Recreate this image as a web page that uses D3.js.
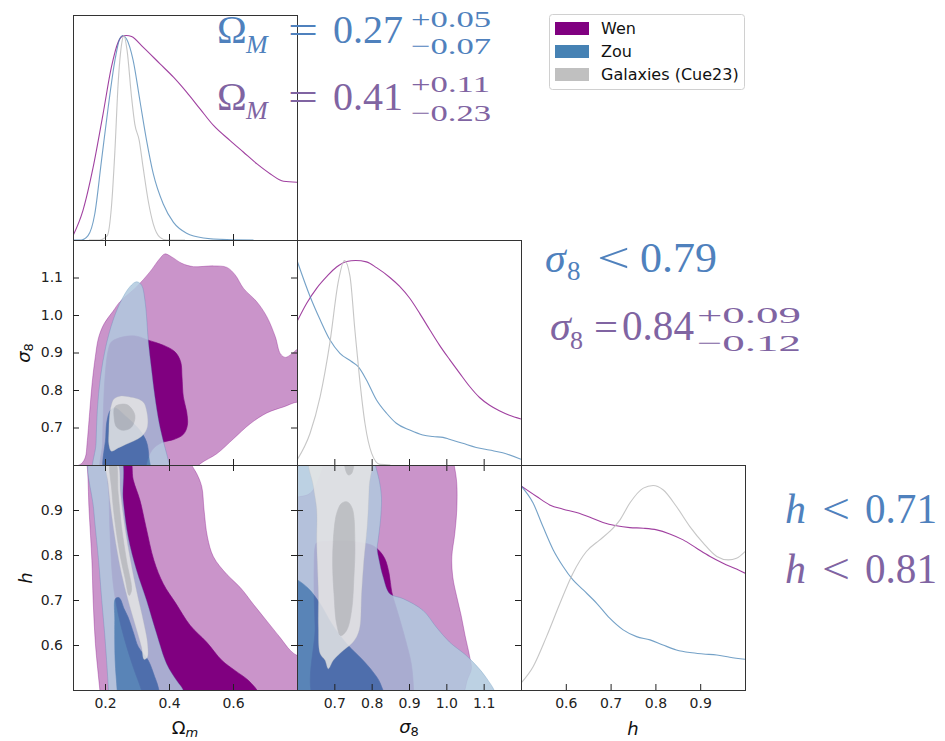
<!DOCTYPE html>
<html><head><meta charset="utf-8">
<script src="https://cdn.jsdelivr.net/npm/d3@7"></script>
<style>body{margin:0;background:#fff}svg{display:block}</style>
</head><body>
<svg id="chart" width="945" height="741"></svg>
<script>
// ---------- parameter ranges & ticks ----------
const omRange = [0.1, 0.8], s8Range = [0.6, 1.2], hRange = [0.5, 1.0];
const omTicks = [0.2, 0.4, 0.6];
const s8Ticks = [0.7, 0.8, 0.9, 1.0, 1.1];
const hTicks  = [0.6, 0.7, 0.8, 0.9];
const seriesNames = ["Wen", "Zou", "Galaxies (Cue23)"];

// ---------- 1D marginals [value, normalised density] ----------
const omWen = [[0.100,0.021],[0.131,0.144],[0.163,0.356],[0.194,0.617],[0.220,0.845],[0.241,0.967],[0.257,0.998],[0.267,1.000],[0.283,0.995],[0.319,0.943],[0.372,0.861],[0.414,0.796],[0.455,0.723],[0.497,0.641],[0.539,0.560],[0.591,0.486],[0.633,0.429],[0.675,0.372],[0.717,0.323],[0.758,0.287],[0.800,0.282]];
const omZou = [[0.100,0.0],[0.126,0.0],[0.147,0.021],[0.168,0.127],[0.189,0.388],[0.210,0.649],[0.231,0.878],[0.246,0.984],[0.255,1.0],[0.267,0.984],[0.288,0.878],[0.309,0.682],[0.330,0.486],[0.351,0.323],[0.382,0.176],[0.414,0.086],[0.455,0.033],[0.508,0.010],[0.581,0.002],[0.664,0.0]];
const omGal = [[0.150,0.0],[0.184,0.0],[0.207,0.021],[0.220,0.160],[0.231,0.437],[0.241,0.763],[0.252,0.959],[0.259,1.0],[0.269,0.927],[0.283,0.698],[0.293,0.568],[0.307,0.486],[0.319,0.356],[0.335,0.192],[0.351,0.078],[0.372,0.013],[0.393,0.0],[0.450,0.0]];

const s8Wen = [[0.600,0.701],[0.626,0.791],[0.653,0.865],[0.680,0.922],[0.706,0.968],[0.733,0.995],[0.757,1.0],[0.786,0.993],[0.813,0.965],[0.848,0.918],[0.875,0.873],[0.902,0.815],[0.929,0.740],[0.956,0.660],[0.982,0.585],[1.009,0.515],[1.036,0.448],[1.062,0.385],[1.089,0.330],[1.116,0.292],[1.142,0.265],[1.169,0.243],[1.200,0.225]];
const s8Zou = [[0.600,1.0],[0.635,0.824],[0.662,0.710],[0.688,0.612],[0.715,0.546],[0.746,0.506],[0.764,0.481],[0.786,0.416],[0.813,0.318],[0.840,0.253],[0.866,0.204],[0.902,0.171],[0.937,0.147],[0.964,0.139],[0.991,0.135],[1.008,0.126],[1.044,0.106],[1.080,0.086],[1.115,0.073],[1.151,0.060],[1.200,0.028]];
const s8Gal = [[0.600,0.024],[0.635,0.155],[0.662,0.334],[0.688,0.597],[0.711,0.900],[0.727,1.0],[0.742,0.922],[0.755,0.661],[0.768,0.416],[0.782,0.204],[0.800,0.057],[0.822,0.003],[0.850,0.0]];

const hWen = [[0.500,0.998],[0.535,0.946],[0.564,0.905],[0.594,0.884],[0.624,0.868],[0.654,0.845],[0.683,0.819],[0.713,0.803],[0.743,0.794],[0.773,0.791],[0.803,0.783],[0.832,0.763],[0.862,0.734],[0.892,0.693],[0.922,0.653],[0.951,0.620],[0.981,0.591],[1.000,0.571]];
const hZou = [[0.500,0.998],[0.527,0.914],[0.549,0.799],[0.572,0.685],[0.594,0.604],[0.616,0.538],[0.639,0.489],[0.669,0.424],[0.698,0.351],[0.728,0.294],[0.758,0.261],[0.788,0.245],[0.817,0.220],[0.847,0.196],[0.877,0.183],[0.907,0.176],[0.937,0.171],[0.966,0.160],[1.000,0.150]];
const hGal = [[0.501,0.036],[0.527,0.114],[0.557,0.261],[0.587,0.424],[0.616,0.571],[0.646,0.677],[0.676,0.734],[0.698,0.775],[0.721,0.832],[0.743,0.914],[0.773,0.987],[0.795,1.0],[0.817,0.979],[0.847,0.897],[0.877,0.799],[0.907,0.718],[0.937,0.653],[0.963,0.636],[0.981,0.644],[1.000,0.677]];

// ---------- 2D contours: sigma8 vs Omega_m  [Om, s8] ----------
const wenOuterS8Om = [[0.0791,0.550],[0.0948,0.590],[0.1261,0.6034],[0.1387,0.6211],[0.1439,0.657],[0.1520,0.740],[0.1600,0.820],[0.1700,0.890],[0.1800,0.940],[0.1980,0.978],[0.2250,1.010],[0.2463,1.035],[0.2985,1.075],[0.3403,1.115],[0.3717,1.151],[0.3874,1.163],[0.4083,1.155],[0.4396,1.138],[0.4762,1.129],[0.5389,1.131],[0.5807,1.127],[0.6068,1.107],[0.6329,1.071],[0.6747,1.035],[0.7061,0.995],[0.7322,0.942],[0.7479,0.897],[0.7635,0.887],[0.7844,0.897],[0.8053,0.911],[0.863,0.924],[0.863,0.755],[0.8053,0.768],[0.7583,0.755],[0.7061,0.739],[0.6538,0.710],[0.6016,0.670],[0.5493,0.630],[0.4971,0.603],[0.4553,0.568]];
const wenInnerS8Om = [[0.2202,0.9284],[0.2567,0.9418],[0.2985,0.9435],[0.3351,0.9329],[0.3821,0.9195],[0.4187,0.9017],[0.4365,0.8750],[0.4406,0.8349],[0.4448,0.7815],[0.4553,0.7414],[0.4574,0.7058],[0.4448,0.6817],[0.4135,0.6675],[0.3821,0.6612],[0.3560,0.6479],[0.3403,0.6301],[0.3299,0.6034],[0.3247,0.5678],[0.190,0.5678],[0.192,0.6568],[0.195,0.7459],[0.200,0.8349],[0.210,0.9061]];
const zouOuterS8Om = [[0.168,0.5678],[0.172,0.6568],[0.176,0.7459],[0.186,0.8349],[0.2024,0.9150],[0.2254,0.9863],[0.2515,1.0397],[0.2776,1.0753],[0.2985,1.0887],[0.3142,1.0798],[0.3247,1.0397],[0.3299,0.9952],[0.3351,0.9329],[0.3456,0.8527],[0.3560,0.7815],[0.3696,0.7102],[0.3842,0.6568],[0.3978,0.6122],[0.4051,0.5678]];
const zouInnerS8Om = [[0.2024,0.5678],[0.2024,0.6746],[0.2066,0.7191],[0.2170,0.7459],[0.2306,0.7521],[0.2672,0.7281],[0.3090,0.6924],[0.3299,0.6612],[0.3372,0.6211],[0.3382,0.5678]];
const galOuterS8Om = [[0.228,0.776],[0.250,0.784],[0.280,0.781],[0.304,0.776],[0.322,0.765],[0.330,0.745],[0.334,0.715],[0.330,0.695],[0.314,0.676],[0.290,0.664],[0.265,0.655],[0.240,0.645],[0.220,0.637],[0.212,0.655],[0.212,0.690],[0.214,0.730],[0.220,0.760]];
const galInnerS8Om = [[0.2307,0.7548],[0.2500,0.7620],[0.2724,0.7593],[0.2934,0.7326],[0.2831,0.7013],[0.2567,0.6925],[0.2360,0.7013],[0.2285,0.7280]];

// ---------- 2D contours: h vs Omega_m  [Om, h] ----------
const wenOuterHOm = [[0.1366,1.026],[0.1439,1.0],[0.1502,0.900],[0.1590,0.788],[0.1630,0.699],[0.1700,0.603],[0.1840,0.499],[0.1880,0.469],[0.8628,0.469],[0.8628,0.566],[0.8001,0.577],[0.7792,0.588],[0.7479,0.616],[0.7061,0.653],[0.6643,0.690],[0.6225,0.728],[0.5807,0.757],[0.5389,0.796],[0.5201,0.840],[0.5096,0.900],[0.5023,0.952],[0.4866,0.981],[0.4710,1.0],[0.4605,1.026]];
const wenInnerHOm = [[0.2149,1.019],[0.2755,1.019],[0.2881,0.967],[0.3090,0.922],[0.3278,0.863],[0.3529,0.788],[0.3821,0.736],[0.4218,0.692],[0.4657,0.644],[0.5180,0.606],[0.5650,0.566],[0.6068,0.543],[0.6486,0.521],[0.6831,0.491],[0.6935,0.469],[0.3247,0.469],[0.3142,0.4989],[0.2881,0.5509],[0.2620,0.6102],[0.2411,0.6696],[0.2254,0.7365],[0.2170,0.8255],[0.2129,0.9220]];
const zouOuterHOm = [[0.1543,1.019],[0.1648,0.900],[0.1800,0.788],[0.1900,0.699],[0.1990,0.625],[0.2050,0.566],[0.2110,0.499],[0.2130,0.469],[0.4500,0.469],[0.4448,0.499],[0.4239,0.521],[0.3926,0.558],[0.3612,0.625],[0.3299,0.699],[0.2985,0.766],[0.2724,0.840],[0.2567,0.922],[0.2463,1.019]];
const zouInnerHOm = [[0.2400,0.469],[0.2380,0.499],[0.2317,0.566],[0.2306,0.655],[0.2327,0.703],[0.2442,0.705],[0.2600,0.680],[0.2720,0.662],[0.2900,0.625],[0.3040,0.596],[0.3350,0.566],[0.3550,0.530],[0.3660,0.507],[0.3720,0.469]];
const galOuterHOm = [[0.2045,1.004],[0.2379,1.004],[0.2484,0.937],[0.2620,0.863],[0.2797,0.788],[0.3006,0.714],[0.3194,0.655],[0.3330,0.603],[0.3320,0.572],[0.3220,0.568],[0.3142,0.595],[0.2933,0.647],[0.2724,0.699],[0.2515,0.759],[0.2338,0.826],[0.2202,0.892],[0.2097,0.959]];
const galInnerHOm = [[0.2170,1.007],[0.2327,1.007],[0.2411,0.937],[0.2515,0.863],[0.2672,0.788],[0.2829,0.722],[0.2755,0.710],[0.2620,0.751],[0.2463,0.803],[0.2306,0.877],[0.2212,0.944]];

// ---------- 2D contours: h vs sigma8  [s8, h] ----------
const wenOuterHS8 = [[0.564,0.928],[0.6013,0.929],[0.6351,0.937],[0.6573,0.967],[0.6707,1.0],[0.6796,1.026],[1.0129,1.026],[1.0218,0.996],[1.0280,0.959],[1.0280,0.900],[1.0227,0.848],[1.0147,0.796],[1.0173,0.751],[1.0280,0.707],[1.0396,0.666],[1.0502,0.621],[1.0618,0.577],[1.0671,0.547],[1.0573,0.525],[1.0307,0.477],[0.564,0.477]];
const wenInnerHS8 = [[0.6484,0.818],[0.6529,0.827],[0.7062,0.831],[0.7596,0.829],[0.7996,0.822],[0.8173,0.812],[0.8351,0.792],[0.8467,0.759],[0.8538,0.718],[0.8707,0.670],[0.8911,0.610],[0.9062,0.558],[0.9124,0.499],[0.9124,0.469],[0.6529,0.469],[0.6484,0.640],[0.6458,0.714],[0.6458,0.774]];
const zouOuterHS8 = [[0.564,1.026],[0.804,1.026],[0.8111,0.996],[0.8200,0.967],[0.8262,0.929],[0.8236,0.8775],[0.8173,0.833],[0.8147,0.8144],[0.8200,0.788],[0.8307,0.751],[0.8484,0.714],[0.8840,0.703],[0.9373,0.677],[0.9729,0.640],[1.0084,0.6065],[1.0529,0.577],[1.0884,0.547],[1.1151,0.5175],[1.1284,0.499],[1.1373,0.469],[0.564,0.469]];
const zouInnerHS8 = [[0.564,0.7587],[0.5996,0.7454],[0.6307,0.7253],[0.6618,0.6919],[0.6929,0.6474],[0.7329,0.6028],[0.7729,0.5694],[0.8040,0.5397],[0.8236,0.5137],[0.8324,0.469],[0.564,0.469]];
const galOuterHS8 = [[0.6351,1.0186],[0.7951,1.0186],[0.7933,0.952],[0.7880,0.863],[0.7791,0.788],[0.7729,0.714],[0.7684,0.640],[0.7596,0.618],[0.7462,0.603],[0.7240,0.588],[0.6973,0.566],[0.6840,0.547],[0.6751,0.566],[0.6618,0.581],[0.6573,0.640],[0.6573,0.714],[0.6529,0.826],[0.6529,0.900],[0.6440,0.952]];
const galInnerHS8a = [[0.6973,0.833],[0.7062,0.892],[0.7196,0.915],[0.7347,0.918],[0.7480,0.9035],[0.7551,0.8255],[0.7524,0.751],[0.7462,0.677],[0.7329,0.6325],[0.7169,0.621],[0.7062,0.647],[0.6991,0.714],[0.6956,0.774]];
const galInnerHS8b = [[0.7284,1.0186],[0.7507,1.0186],[0.7462,0.981],[0.7373,0.978],[0.7302,0.989]];

// ---------- styles ----------
const COL = {
  wen: {dark:"#800080", light:"#ca94ca", alpha:1},
  zou: {dark:"#4682b4", light:"#b1cadf", alpha:0.85},
  gal: {dark:"#c0c0c0", light:"#e5e5e5", alpha:0.85}
};
const fmt = d3.format(".1f");
const svg = d3.select("#chart");
const defs = svg.append("defs");
const L = 73, T = 15, W = 224, H = 225;
const px = i => L + i * W, py = j => T + j * H;

const xScales = [
  d3.scaleLinear().domain(omRange).range([px(0), px(1)]),
  d3.scaleLinear().domain(s8Range).range([px(1), px(2)]),
  d3.scaleLinear().domain(hRange).range([px(2), px(3)])
];
const yScales = [
  null,
  d3.scaleLinear().domain(s8Range).range([py(2), py(1)]),
  d3.scaleLinear().domain(hRange).range([py(3), py(2)])
];
const tickSets = [omTicks, s8Ticks, hTicks];

function clipFor(c, r) {
  const id = "clip" + c + r;
  defs.append("clipPath").attr("id", id).append("rect")
    .attr("x", px(c)).attr("y", py(r)).attr("width", W).attr("height", H);
  return "url(#" + id + ")";
}
function styleAxis(g) {
  g.select(".domain").remove();
  g.selectAll(".tick line").attr("stroke", "#222").attr("stroke-width", 1);
  g.selectAll(".tick text").attr("fill", "#222").attr("font-size", 14).attr("font-family", "DejaVu Sans");
  g.attr("font-family", null).attr("font-size", null);
}
function frame(c, r) {
  svg.append("rect").attr("x", px(c) + 0.5).attr("y", py(r) + 0.5)
    .attr("width", W).attr("height", H).attr("fill", "none")
    .attr("stroke", "#333").attr("stroke-width", 1);
}

function panel2D(c, r, layers) {
  const xS = xScales[c], yS = yScales[r];
  const g = svg.append("g").attr("clip-path", clipFor(c, r));
  const line = d3.line().x(d => xS(d[0])).y(d => yS(d[1]))
    .curve(d3.curveCatmullRomClosed.alpha(0.5));
  layers.forEach(ly => {
    const lg = g.append("g").attr("opacity", ly.st.alpha);
    lg.append("path").attr("d", line(ly.outer)).attr("fill", ly.st.light)
      .attr("stroke", ly.st.dark).attr("stroke-width", 0.7).attr("stroke-opacity", 0.45);
    ly.inner.forEach(p => lg.append("path").attr("d", line(p)).attr("fill", ly.st.dark)
      .attr("stroke", ly.st.dark).attr("stroke-width", 0.6));
  });
  frame(c, r);
  const xt = tickSets[c], yt = tickSets[r];
  svg.append("g").attr("transform", `translate(0,${py(r) + H})`)
    .call(d3.axisBottom(xS).tickValues(xt).tickSize(-6).tickSizeOuter(0).tickPadding(8)
      .tickFormat(r === 2 ? fmt : "")).call(styleAxis);
  svg.append("g").attr("transform", `translate(0,${py(r)})`)
    .call(d3.axisTop(xS).tickValues(xt).tickSize(-6).tickSizeOuter(0).tickFormat("")).call(styleAxis);
  svg.append("g").attr("transform", `translate(${px(c)},0)`)
    .call(d3.axisLeft(yS).tickValues(yt).tickSize(-6).tickSizeOuter(0).tickPadding(10)
      .tickFormat(c === 0 ? fmt : "")).call(styleAxis);
  svg.append("g").attr("transform", `translate(${px(c) + W},0)`)
    .call(d3.axisRight(yS).tickValues(yt).tickSize(-6).tickSizeOuter(0).tickFormat("")).call(styleAxis);
}

function panel1D(i, curves) {
  const xS = xScales[i];
  const yS = d3.scaleLinear().domain([0, 1.1]).range([py(i + 1), py(i)]);
  const g = svg.append("g").attr("clip-path", clipFor(i, i));
  const line = d3.line().x(d => xS(d[0])).y(d => yS(d[1])).curve(d3.curveMonotoneX);
  curves.forEach(cv => g.append("path").attr("d", line(cv.data)).attr("fill", "none")
    .attr("stroke", cv.color).attr("stroke-width", 1.1).attr("stroke-opacity", cv.op));
  frame(i, i);
  svg.append("g").attr("transform", `translate(0,${py(i) + H})`)
    .call(d3.axisBottom(xS).tickValues(tickSets[i]).tickSize(-6).tickSizeOuter(0).tickPadding(8)
      .tickFormat(i === 2 ? fmt : "")).call(styleAxis);
}

// 2D panels
panel2D(0, 1, [
  {st: COL.wen, outer: wenOuterS8Om, inner: [wenInnerS8Om]},
  {st: COL.zou, outer: zouOuterS8Om, inner: [zouInnerS8Om]},
  {st: COL.gal, outer: galOuterS8Om, inner: [galInnerS8Om]}
]);
panel2D(0, 2, [
  {st: COL.wen, outer: wenOuterHOm, inner: [wenInnerHOm]},
  {st: COL.zou, outer: zouOuterHOm, inner: [zouInnerHOm]},
  {st: COL.gal, outer: galOuterHOm, inner: [galInnerHOm]}
]);
panel2D(1, 2, [
  {st: COL.wen, outer: wenOuterHS8, inner: [wenInnerHS8]},
  {st: COL.zou, outer: zouOuterHS8, inner: [zouInnerHS8]},
  {st: COL.gal, outer: galOuterHS8, inner: [galInnerHS8a, galInnerHS8b]}
]);
// 1D panels
const lineStyle = [{color: "#800080", op: 0.75}, {color: "#4682b4", op: 0.75}, {color: "#c0c0c0", op: 0.9}];
panel1D(0, [omWen, omZou, omGal].map((d, k) => ({data: d, ...lineStyle[k]})));
panel1D(1, [s8Wen, s8Zou, s8Gal].map((d, k) => ({data: d, ...lineStyle[k]})));
panel1D(2, [hWen, hZou, hGal].map((d, k) => ({data: d, ...lineStyle[k]})));

// axis labels
function mathLabel(x, y, main, sub, italicMain, rotate) {
  const t = svg.append("text").attr("font-family", "DejaVu Sans").attr("font-size", 18)
    .attr("fill", "#111").attr("text-anchor", "middle")
    .attr("transform", rotate ? `translate(${x},${y}) rotate(-90)` : `translate(${x},${y})`);
  t.append("tspan").attr("font-style", italicMain ? "italic" : null).text(main);
  if (sub) t.append("tspan").attr("font-size", 13).attr("dy", 3)
    .attr("font-style", sub === "m" ? "italic" : null).text(sub);
}
mathLabel(185, 734, "Ω", "m", false, false);
mathLabel(409, 733, "σ", "8", true, false);
mathLabel(633, 735, "h", null, true, false);
mathLabel(30, 353, "σ", "8", true, true);
mathLabel(32, 578, "h", null, true, true);

// legend
const legend = svg.append("g");
legend.append("rect").attr("x", 549.5).attr("y", 14.5).attr("width", 195).attr("height", 75)
  .attr("rx", 3).attr("fill", "#fff").attr("stroke", "#d0d0d0");
seriesNames.forEach((n, k) => {
  const c = [COL.wen.dark, COL.zou.dark, COL.gal.dark][k];
  legend.append("rect").attr("x", 555).attr("y", 22 + k * 23).attr("width", 34).attr("height", 13).attr("fill", c);
  legend.append("text").attr("x", 601).attr("y", 34 + k * 23).attr("font-family", "DejaVu Sans")
    .attr("font-size", 16).attr("fill", "#111").text(n);
});

// constraint annotations
const BLUE = "#4F81BD", PURPLE = "#8064A2";
function put(txt, x, y, size, color, italic, tl) {
  const t = svg.append("text").attr("x", x).attr("y", y).attr("font-family", "Liberation Serif")
    .attr("font-size", size).attr("fill", color).text(txt);
  if (italic) t.attr("font-style", "italic");
  if (tl) t.attr("textLength", tl).attr("lengthAdjust", "spacingAndGlyphs");
}
put("Ω", 217, 43, 40, BLUE);
put("M", 246, 53, 26, BLUE, true);
put("=", 288, 44, 40, BLUE, false, 30);
put("0.27", 333, 43, 40, BLUE, false, 70);
put("+0.05", 411, 27, 24, BLUE, false, 80);
put("−0.07", 411, 54, 24, BLUE, false, 80);

put("Ω", 217, 110, 40, PURPLE);
put("M", 246, 119, 26, PURPLE, true);
put("=", 288, 111, 40, PURPLE, false, 30);
put("0.41", 333, 110, 40, PURPLE, false, 70);
put("+0.11", 411, 92, 24, PURPLE, false, 79);
put("−0.23", 411, 121, 24, PURPLE, false, 80);

put("σ", 545, 272, 42, BLUE, true);
put("8", 567, 280, 27, BLUE);
put("<", 597, 272, 42, BLUE, false, 33);
put("0.79", 640, 272, 42, BLUE, false, 77);

put("σ", 550, 340, 42, PURPLE, true);
put("8", 570, 349, 26, PURPLE);
put("=", 594, 341, 40, PURPLE, false, 24);
put("0.84", 622, 340, 42, PURPLE, false, 72);
put("+0.09", 697, 323, 24, PURPLE, false, 104);
put("−0.12", 697, 351, 24, PURPLE, false, 104);

put("h", 785, 523, 42, BLUE, true);
put("<", 822, 523, 42, BLUE, false, 28);
put("0.71", 865, 523, 42, BLUE, false, 72);
put("h", 785, 583, 42, PURPLE, true);
put("<", 822, 583, 42, PURPLE, false, 28);
put("0.81", 865, 583, 42, PURPLE, false, 72);
</script>
</body></html>
